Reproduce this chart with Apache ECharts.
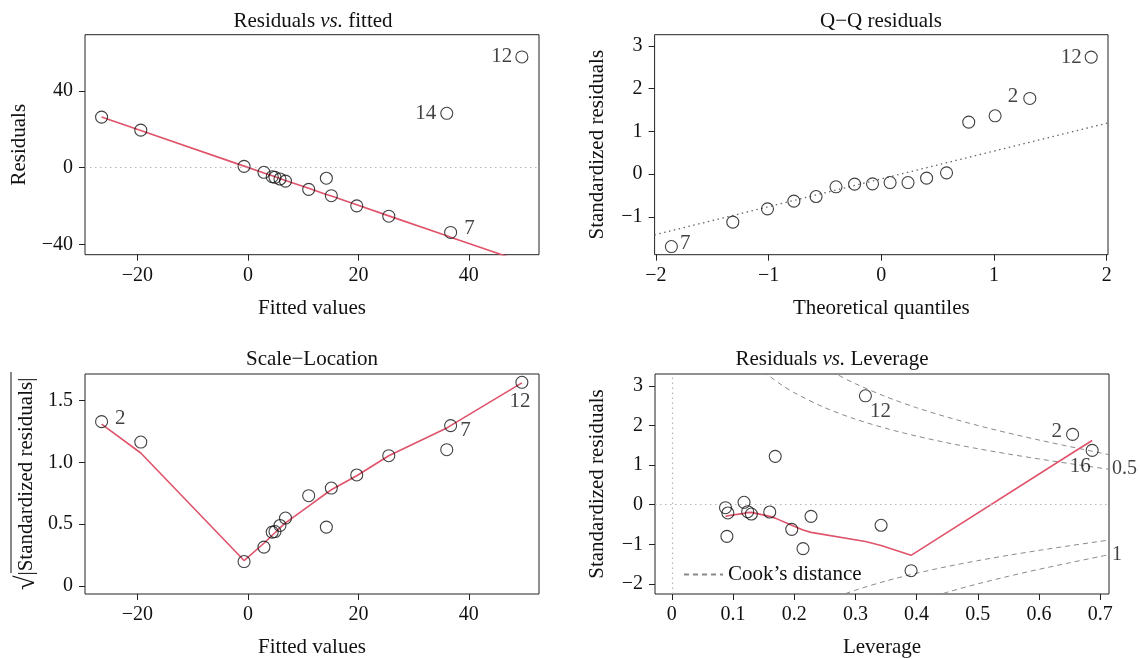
<!DOCTYPE html>
<html><head><meta charset="utf-8">
<script src="https://cdn.jsdelivr.net/npm/echarts@6.0.0/dist/echarts.min.js"></script>
<style>html,body{margin:0;padding:0;background:#fff}#c{width:1140px;height:659px}</style>
</head><body><div id="c"></div>
<script>
// ---------- DATA ----------
// Panel 1 & 3: fitted values (sorted)
const fitted      = [-26.5, -19.4, -0.7, 2.9, 4.4, 4.9, 5.8, 6.8, 11.0, 14.2, 15.1, 19.7, 25.5, 36.0, 36.7, 49.6];
const residuals   = [26.4, 19.6, 0.7, -2.4, -4.7, -5.0, -5.9, -7.0, -11.3, -5.5, -14.6, -19.9, -25.3, 28.4, -33.8, 57.8];
const residSmooth = [26.4, 19.35, 0.82, -2.75, -4.24, -4.74, -5.63, -6.62, -10.77, -13.94, -14.83, -19.39, -25.14, -35.54, -36.24, -49.02];
const residIds    = ['', '', '', '', '', '', '', '', '', '', '', '', '', '14', '7', '12'];

const sqrtStdRes  = [1.33, 1.165, 0.197, 0.314, 0.435, 0.44, 0.489, 0.549, 0.730, 0.476, 0.792, 0.898, 1.054, 1.103, 1.298, 1.649];
const sqrtSmooth  = [1.31, 1.076, 0.205, 0.345, 0.41, 0.43, 0.47, 0.51, 0.645, 0.75, 0.778, 0.892, 1.054, 1.279, 1.298, 1.644];
const scaleIds    = ['2', '', '', '', '', '', '', '', '', '', '', '', '', '', '7', '12'];

// Panel 2: Q-Q
const theoQuant   = [-1.863, -1.318, -1.010, -0.776, -0.579, -0.402, -0.237, -0.078, 0.078, 0.237, 0.402, 0.579, 0.776, 1.010, 1.318, 1.863];
const stdResSorted= [-1.695, -1.124, -0.813, -0.633, -0.524, -0.297, -0.234, -0.227, -0.197, -0.197, -0.094, 0.03, 1.218, 1.365, 1.771, 2.740];
const qqIds       = ['7', '', '', '', '', '', '', '', '', '', '', '', '', '', '2', '12'];
const qqLineX     = [-2.1, 2.1];
const qqLineY     = [-1.478, 1.256];

// Panel 4: residuals vs leverage
const leverage    = [0.0877, 0.0916, 0.09, 0.118, 0.124, 0.130, 0.160, 0.169, 0.196, 0.2144, 0.2275, 0.3164, 0.342, 0.391, 0.655, 0.687];
const stdResLev   = [-0.076, -0.21, -0.80, 0.06, -0.177, -0.236, -0.185, 1.22, -0.623, -1.11, -0.295, 2.75, -0.52, -1.667, 1.775, 1.37];
const levIds      = ['', '', '', '', '', '', '', '', '', '', '', '12', '', '', '2', '16'];
const levSmoothX  = [0.0877, 0.09, 0.0916, 0.118, 0.124, 0.130, 0.160, 0.169, 0.196, 0.2144, 0.2275, 0.3164, 0.342, 0.391, 0.655, 0.687];
const levSmoothY  = [-0.30, -0.29, -0.28, -0.22, -0.20, -0.195, -0.295, -0.34, -0.52, -0.64, -0.70, -0.93, -1.03, -1.28, 1.31, 1.62];

// Cook's distance contours
const cookHalfUpX = [0.15, 0.16, 0.18, 0.2, 0.25, 0.3, 0.35, 0.4, 0.45, 0.5, 0.55, 0.6, 0.65, 0.7, 0.72];
const cookHalfUpY = [3.367, 3.240, 3.018, 2.828, 2.449, 2.160, 1.927, 1.732, 1.563, 1.414, 1.279, 1.155, 1.038, 0.926, 0.882];
const cookOneUpX  = [0.26, 0.27, 0.3, 0.35, 0.4, 0.45, 0.5, 0.55, 0.6, 0.65, 0.7, 0.72];
const cookOneUpY  = [3.374, 3.289, 3.055, 2.726, 2.449, 2.211, 2.0, 1.809, 1.633, 1.468, 1.309, 1.247];
const cookHalfLoX = [0.27, 0.3, 0.35, 0.4, 0.45, 0.5, 0.55, 0.6, 0.65, 0.7, 0.72];
const cookHalfLoY = [-2.325, -2.160, -1.927, -1.732, -1.563, -1.414, -1.279, -1.155, -1.038, -0.926, -0.882];
const cookOneLoX  = [0.43, 0.45, 0.5, 0.55, 0.6, 0.65, 0.7, 0.72];
const cookOneLoY  = [-2.303, -2.211, -2.0, -1.809, -1.633, -1.468, -1.309, -1.247];
const cookLevelText = ['1', '0.5'];
const cookLevelY    = [-1.26, 0.9];

// Tick labels
const ticksFitted = [-20, 0, 20, 40];
const ticksResid  = [-40, 0, 40];
const ticksQX     = [-2, -1, 0, 1, 2];
const ticksQY     = [-1, 0, 1, 2, 3];
const ticksSqrt   = [0, 0.5, 1.0, 1.5];
const ticksLev    = [0, 0.1, 0.2, 0.3, 0.4, 0.5, 0.6, 0.7];
const ticksLevY   = [-2, -1, 0, 1, 2, 3];

// ---------- STYLE / LAYOUT ----------
const FONT = '"Liberation Serif", "DejaVu Serif", "Times New Roman", serif';
const TXT = '#111';
const RED = '#DF536B';
const minus = v => String(v).replace('-', '\u2212');

const grids = [
  {left: 85,  top: 34.7, width: 454, height: 220},
  {left: 654.6, top: 34.7, width: 453.4, height: 220},
  {left: 85,  top: 374,  width: 454, height: 220},
  {left: 655, top: 374,  width: 454, height: 220}
].map(g => Object.assign({show: true, borderColor: '#222', borderWidth: 1, backgroundColor: 'transparent', containLabel: false, outerBoundsMode: 'none'}, g));

function ax(dim, gi, min, max, ticks, fmt, name, gap, rich) {
  return {
    type: 'value', gridIndex: gi, min, max, scale: true,
    position: dim === 'x' ? 'bottom' : 'left',
    splitLine: {show: false},
    axisLine: {show: false, onZero: false},
    axisTick: {show: true, customValues: ticks, length: 6, inside: false, lineStyle: {color: '#222', width: 1}},
    axisLabel: {show: true, customValues: ticks, formatter: fmt, margin: dim === 'x' ? 11 : 12,
                fontSize: 20, fontFamily: FONT, color: TXT},
    name: name, nameLocation: 'middle', nameGap: gap,
    nameTextStyle: Object.assign({fontSize: 21, fontFamily: FONT, color: TXT}, rich ? {rich} : {})
  };
}

const xAxes = [
  ax('x', 0, -29.5, 52.7, ticksFitted, v => minus(v), 'Fitted values', 43),
  ax('x', 1, -2.012, 2.012, ticksQX, v => minus(v), 'Theoretical quantiles', 43),
  ax('x', 2, -29.5, 52.7, ticksFitted, v => minus(v), 'Fitted values', 43),
  ax('x', 3, -0.0275, 0.7145, ticksLev, v => v === 0 ? '0' : v.toFixed(1), 'Leverage', 43)
];
const yAxes = [
  ax('y', 0, -45.4, 69.4, ticksResid, v => minus(v), 'Residuals', 55),
  ax('y', 1, -1.886, 3.264, ticksQY, v => minus(v), 'Standardized residuals', 47),
  ax('y', 2, -0.066, 1.716, ticksSqrt, v => v === 0 ? '0' : v.toFixed(1), '{r|\u221A}|Standardized residuals|', 45,
     {r: {fontSize: 27, fontFamily: FONT, color: TXT}}),
  ax('y', 3, -2.256, 3.30, ticksLevY, v => minus(v), 'Standardized residuals', 47)
];

// label placement per panel (style)
const labelStyle = {fontSize: 21, fontFamily: FONT, color: TXT};
const place = {
  p1: {'12': {position: 'left', distance: 3}, '14': {position: 'left', distance: 4}, '7': {position: 'right', distance: 7, offset: [0, -4]}},
  p2: {'7': {position: 'right', distance: 2, offset: [0, -3]}, '2': {position: 'left', distance: 5, offset: [0, -2]}, '12': {position: 'left', distance: 3}},
  p3: {'2': {position: 'right', distance: 7, offset: [0, -3]}, '7': {position: 'right', distance: 3, offset: [0, 5]}, '12': {position: 'bottom', distance: 2, offset: [-2, 0]}},
  p4: {'12': {position: 'inside', offset: [15, 16]}, '2': {position: 'left', distance: 4, offset: [0, -3]}, '16': {position: 'inside', offset: [-12, 16]}}
};
function pts(xs, ys, ids, pk) {
  return xs.map((x, i) => {
    const d = {value: [x, ys[i]]};
    if (ids[i]) d.label = Object.assign({show: true, formatter: ids[i]}, labelStyle, place[pk][ids[i]]);
    return d;
  });
}
const zip = (a, b) => a.map((v, i) => [v, b[i]]);

const circleStyle = {color: 'rgba(0,0,0,0)', borderColor: '#111', borderWidth: 1.1};
function scatter(gi, data) {
  return {type: 'scatter', xAxisIndex: gi, yAxisIndex: gi, data, symbol: 'circle', symbolSize: 12,
          itemStyle: circleStyle, z: 5, silent: true};
}
function line(gi, data, style, extra) {
  return Object.assign({type: 'line', xAxisIndex: gi, yAxisIndex: gi, data, symbol: 'none', showSymbol: false,
          clip: true, lineStyle: style, silent: true, z: 3}, extra || {});
}
const dotted = {color: '#b5b5b5', width: 1.2, type: [1.5, 3.5]};
const refLine = (axis) => ({silent: true, symbol: 'none', label: {show: false}, lineStyle: dotted, data: axis});

const cookStyle = {color: '#8a8a8a', width: 1, type: [5, 4]};
const series = [
  // panel 1
  line(0, zip(fitted, residSmooth), {color: RED, width: 1.6}, {markLine: refLine([{yAxis: 0}])}),
  scatter(0, pts(fitted, residuals, residIds, 'p1')),
  // panel 2
  line(1, zip(qqLineX, qqLineY), {color: '#666', width: 1.3, type: [1.5, 3.5]}),
  scatter(1, pts(theoQuant, stdResSorted, qqIds, 'p2')),
  // panel 3
  line(2, zip(fitted, sqrtSmooth), {color: RED, width: 1.6}),
  scatter(2, pts(fitted, sqrtStdRes, scaleIds, 'p3')),
  // panel 4
  line(3, zip(cookHalfUpX, cookHalfUpY), cookStyle, {name: 'Cook\u2019s distance', smooth: 0.3}),
  line(3, zip(cookOneUpX, cookOneUpY), cookStyle, {name: 'Cook\u2019s distance', smooth: 0.3}),
  line(3, zip(cookHalfLoX, cookHalfLoY), cookStyle, {name: 'Cook\u2019s distance', smooth: 0.3}),
  line(3, zip(cookOneLoX, cookOneLoY), cookStyle, {name: 'Cook\u2019s distance', smooth: 0.3}),
  line(3, zip(levSmoothX, levSmoothY), {color: RED, width: 1.6}, {markLine: refLine([{yAxis: 0}, {xAxis: 0}])}),
  scatter(3, pts(leverage, stdResLev, levIds, 'p4')),
  {type: 'scatter', xAxisIndex: 3, yAxisIndex: 3, symbolSize: 0, silent: true, clip: false,
   data: cookLevelY.map((y, i) => ({value: [0.7145, y], label: {show: true, formatter: cookLevelText[i], position: 'right', distance: 3,
     fontSize: 20, fontFamily: FONT, color: TXT}}))}
];

const titleText = (x, y, text) => ({type: 'text', x, y, silent: true,
  style: {text, align: 'center', verticalAlign: 'middle', fontSize: 21, fontFamily: FONT, fill: TXT,
    rich: {i: {fontStyle: 'italic', fontSize: 21, fontFamily: FONT, fill: TXT}}}});

const chart = echarts.init(document.getElementById('c'), null, {renderer: 'canvas'});
chart.setOption({
  animation: false,
  backgroundColor: '#fff',
  grid: grids,
  xAxis: xAxes,
  yAxis: yAxes,
  series,
  legend: {data: [{name: 'Cook\u2019s distance'}], left: 683, top: 564, itemWidth: 39, itemHeight: 14, padding: 0,
    selectedMode: false, itemStyle: {opacity: 0}, textStyle: {fontSize: 21, fontFamily: FONT, color: TXT}},
  graphic: [
    titleText(313, 21, 'Residuals {i|vs.} fitted'),
    titleText(881, 21, 'Q\u2212Q residuals'),
    titleText(312, 359, 'Scale\u2212Location'),
    titleText(832, 359, 'Residuals {i|vs.} Leverage'),
    {type: 'line', silent: true, shape: {x1: 11, y1: 372, x2: 11, y2: 573}, style: {stroke: TXT, lineWidth: 1}}
  ]
});
</script></body></html>
